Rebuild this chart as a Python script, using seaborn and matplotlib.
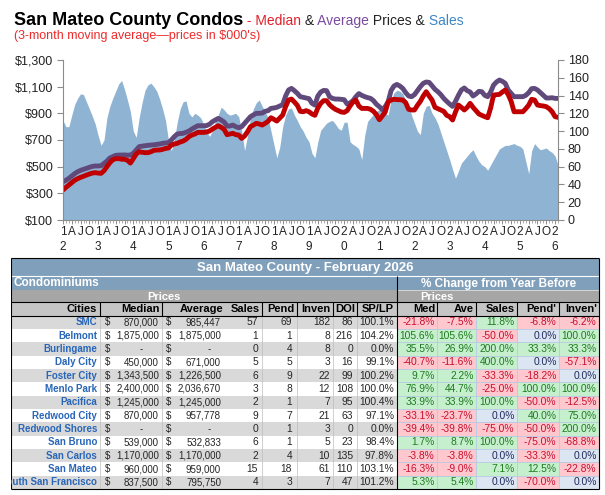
import matplotlib
matplotlib.use("Agg")
import numpy as np
import pandas as pd
import matplotlib.pyplot as plt
import seaborn as sns
from matplotlib.patches import Rectangle

# ---- chart data: 3-month moving averages, Jan 2012 .. Feb 2026 ----
sales = (
    [112, 105, 105, 118, 130, 137, 142, 141, 133, 125, 117, 108]      # 2012
    + [95, 84, 90, 115, 128, 137, 145, 153, 157, 147, 135, 122]       # 2013
    + [100, 93, 115, 132, 146, 152, 154, 150, 145, 136, 125, 112]     # 2014
    + [90, 78, 90, 110, 125, 133, 134, 120, 116, 120, 118, 115]       # 2015
    + [108, 100, 94, 100, 110, 118, 127, 124, 120, 118, 119, 120]     # 2016
    + [116, 100, 78, 95, 115, 125, 132, 135, 128, 122, 115, 100]      # 2017
    + [85, 70, 82, 105, 118, 125, 126, 118, 112, 105, 100, 93]        # 2018
    + [88, 75, 70, 88, 101, 105, 109, 111, 112, 108, 103, 101]        # 2019
    + [110, 110, 88, 85, 83, 80, 68, 95, 111, 115, 119, 122]          # 2020
    + [124, 123, 120, 118, 135, 143, 146, 145, 142, 135, 128, 118]    # 2021
    + [109, 100, 96, 120, 128, 129, 120, 115, 108, 98, 88, 78]        # 2022
    + [68, 57, 47, 55, 64, 68, 72, 76, 79, 72, 66, 62]                # 2023
    + [60, 56, 62, 68, 74, 80, 82, 84, 84, 85, 86, 84]                # 2024
    + [83, 80, 66, 52, 78, 86, 82, 79, 80, 81, 78, 76]                # 2025
    + [72, 62]                                                        # 2026
)
average_price = (
    [387, 398, 412, 430, 448, 462, 472, 480, 487, 495, 502, 505]
    + [505, 507, 525, 542, 565, 575, 585, 587, 587, 588, 586, 587]
    + [600, 625, 650, 654, 657, 660, 662, 664, 667, 670, 675, 678]
    + [680, 700, 725, 745, 748, 750, 758, 767, 782, 795, 807, 807]
    + [807, 808, 818, 837, 850, 862, 850, 835, 805, 805, 812, 800]
    + [792, 800, 825, 850, 875, 888, 900, 900, 902, 915, 920, 937]
    + [940, 945, 955, 965, 1030, 1075, 1087, 1070, 1050, 1025, 1020, 1015]
    + [1010, 975, 962, 1030, 1060, 1072, 1070, 1025, 1012, 1007, 1007, 1005]
    + [1002, 970, 978, 995, 1025, 1048, 1035, 1025, 1018, 1012, 995, 968]
    + [950, 928, 950, 987, 1070, 1105, 1117, 1105, 1087, 1055, 1030, 1025]
    + [1040, 1070, 1100, 1125, 1135, 1132, 1107, 1080, 1062, 1040, 1012, 990]
    + [970, 952, 990, 1035, 1075, 1090, 1070, 1060, 1030, 1045, 1065, 1062]
    + [1035, 1025, 1060, 1112, 1135, 1150, 1140, 1125, 1075, 1050, 1025, 1025]
    + [1025, 1025, 1035, 1055, 1085, 1087, 1075, 1055, 1035, 1015, 1015, 1017]
    + [1012, 1012]
)
median_price = (
    [325, 345, 362, 380, 398, 410, 420, 428, 437, 445, 452, 455]
    + [452, 450, 470, 500, 530, 552, 560, 560, 556, 555, 548, 527]
    + [560, 595, 612, 608, 605, 605, 612, 622, 625, 625, 630, 637]
    + [640, 662, 670, 675, 685, 692, 705, 725, 737, 745, 757, 757]
    + [757, 760, 767, 782, 795, 807, 795, 780, 740, 745, 750, 740]
    + [737, 712, 730, 762, 800, 812, 825, 820, 812, 825, 840, 867]
    + [855, 842, 865, 887, 950, 1000, 1007, 985, 960, 915, 912, 920]
    + [912, 895, 885, 940, 975, 995, 995, 965, 945, 930, 920, 910]
    + [907, 920, 955, 985, 1000, 955, 937, 937, 937, 930, 915, 890]
    + [852, 880, 910, 985, 1000, 1005, 1003, 1002, 1000, 980, 930, 925]
    + [925, 960, 990, 1030, 1062, 1030, 1000, 945, 935, 925, 915, 885]
    + [875, 850, 910, 962, 945, 925, 945, 975, 945, 920, 895, 885]
    + [875, 867, 940, 1037, 1040, 1042, 1060, 1075, 1040, 990, 912, 912]
    + [912, 912, 935, 962, 1005, 1000, 962, 958, 955, 950, 935, 912]
    + [875, 870]
)
first_year = 2012

# ---- table data ----
cities = ["SMC", "Belmont", "Burlingame", "Daly City", "Foster City", "Menlo Park",
          "Pacifica", "Redwood City", "Redwood Shores", "San Bruno", "San Carlos",
          "San Mateo", "South San Francisco"]
t_median = [870000, 1875000, None, 450000, 1343500, 2400000, 1245000, 870000,
            None, 539000, 1170000, 960000, 837500]
t_average = [985447, 1875000, None, 671000, 1226500, 2036670, 1245000, 957778,
             None, 532833, 1170000, 959000, 795750]
t_sales = [57, 1, 0, 5, 6, 3, 2, 9, 0, 6, 2, 15, 4]
t_pend = [69, 1, 4, 5, 9, 8, 1, 7, 1, 1, 4, 18, 3]
t_inven = [182, 8, 8, 3, 22, 12, 7, 21, 3, 5, 10, 61, 7]
t_doi = [86, 216, 0, 16, 99, 108, 95, 63, 0, 23, 135, 110, 47]
t_splp = ["100.1%", "104.2%", "0.0%", "99.1%", "100.2%", "100.0%", "100.4%",
          "97.1%", "0.0%", "98.4%", "97.8%", "103.1%", "101.2%"]
chg_med = ["-21.8%", "105.6%", "35.5%", "-40.7%", "9.7%", "76.9%", "33.9%",
           "-33.1%", "-39.4%", "1.7%", "-3.8%", "-16.3%", "5.3%"]
chg_ave = ["-7.5%", "105.6%", "26.9%", "-11.6%", "2.2%", "44.7%", "33.9%",
           "-23.7%", "-39.8%", "8.7%", "-3.8%", "-9.0%", "5.4%"]
chg_sales = ["11.8%", "-50.0%", "200.0%", "400.0%", "-33.3%", "-25.0%", "100.0%",
             "0.0%", "-75.0%", "100.0%", "0.0%", "7.1%", "0.0%"]
chg_pend = ["-6.8%", "0.0%", "33.3%", "0.0%", "-18.2%", "100.0%", "-50.0%",
            "40.0%", "-50.0%", "-75.0%", "-33.3%", "12.5%", "-70.0%"]
chg_inven = ["-6.2%", "100.0%", "33.3%", "-57.1%", "0.0%", "100.0%", "-12.5%",
             "75.0%", "200.0%", "-68.8%", "0.0%", "-22.8%", "0.0%"]

AREA = "#8FB3D3"
RED = "#C00000"
PURPLE = "#604A7B"
STEEL = "#7F9FBB"

sns.set_theme(style="white")
plt.rcParams['font.family'] = ['Liberation Sans', 'DejaVu Sans']

W, H = 605, 495
fig = plt.figure(figsize=(W / 100, H / 100), dpi=100)

# ---------------- chart ----------------
months = np.arange(len(sales))
df = pd.DataFrame({"month": months, "Sales": sales,
                   "Median": median_price, "Average": average_price})

ax = fig.add_axes([63 / W, 1 - 220 / H, 495 / W, 160 / H])
ax2 = ax.twinx()
ax.set_zorder(ax2.get_zorder() + 1)
ax.patch.set_visible(False)

ax2.fill_between(df["month"], df["Sales"], 0, color=AREA, linewidth=0)
ax2.set_ylim(0, 180)
ax2.set_yticks(range(0, 181, 20))

sns.lineplot(data=df, x="month", y="Average", ax=ax, color=PURPLE, linewidth=3.5)
sns.lineplot(data=df, x="month", y="Median", ax=ax, color=RED, linewidth=3.5)
ax.set_ylim(100, 1300)
ax.set_yticks(range(100, 1301, 200))
ax.set_yticklabels([f"${v:,}" for v in range(100, 1301, 200)])
ax.set_xlim(0, len(sales) - 1)
ax.set_xlabel("")
ax.set_ylabel("")

qmonths = list(range(0, len(sales), 3))
qlabels = []
for m in qmonths:
    yy = str(first_year + m // 12)[2:]
    k = m % 12
    qlabels.append(f"{yy[0]}\n{yy[1]}" if k == 0 else {3: "A", 6: "J", 9: "O"}[k])
ax.set_xticks(qmonths)
ax.set_xticklabels(qlabels, fontsize=8.5, linespacing=1.25)
ax.set_xticks(months, minor=True)

spc = "#8C8C8C"
for a in (ax, ax2):
    for s in a.spines.values():
        s.set_color(spc)
        s.set_linewidth(0.8)
    a.spines["top"].set_visible(False)
ax.spines["right"].set_visible(False)
ax2.spines["left"].set_visible(False)
ax2.spines["bottom"].set_visible(False)

ax.tick_params(axis="y", left=True, length=4, width=0.8, color=spc,
               labelsize=9, labelcolor="#222222", pad=3)
ax2.tick_params(axis="y", right=True, length=4, width=0.8, color=spc,
                labelsize=9, labelcolor="#222222", pad=3)
ax.tick_params(axis="x", which="major", bottom=True, length=3, width=0.7,
               color=spc, labelcolor="#222222", pad=1.5)
ax.tick_params(axis="x", which="minor", bottom=True, length=2, width=0.5, color=spc)

# ---------------- title ----------------
fig.canvas.draw()
rend = fig.canvas.get_renderer()
t = fig.text(14 / W, 1 - 25 / H, "San Mateo County Condos", fontsize=13,
             fontweight="bold", color="black", va="baseline")
x = t.get_window_extent(renderer=rend).x1
for s, c in [(" - Median", "#E0202A"), (" &", "#222222"), (" Average", "#7A4A9E"),
             (" Prices &", "#222222"), (" Sales", "#3D85C6")]:
    tt = fig.text(x / W, 1 - 25 / H, s, fontsize=10, color=c, va="baseline")
    x = tt.get_window_extent(renderer=rend).x1
fig.text(14 / W, 1 - 39 / H, "(3-month moving average\u2014prices in $000's)",
         fontsize=9, color="#EE2A2A", va="baseline")

# ---------------- table ----------------
tab = fig.add_axes([0, 0, 1, 240 / H])
tab.set_xlim(0, W)
tab.set_ylim(H, 255)
tab.axis("off")


def rect(x0, y0, x1, y1, fc, ec="none", lw=0.0, z=1):
    tab.add_patch(Rectangle((x0, y0), x1 - x0, y1 - y0, facecolor=fc,
                            edgecolor=ec, linewidth=lw, zorder=z))


def hline(y, x0, x1, c="black", lw=0.8, z=4):
    tab.plot([x0, x1], [y, y], color=c, lw=lw, zorder=z, solid_capstyle="butt")


def vline(x, y0, y1, c="black", lw=0.8, z=4):
    tab.plot([x, x], [y0, y1], color=c, lw=lw, zorder=z, solid_capstyle="butt")


L, R, MID = 11, 599, 397
Y_TITLE, Y_ROW2, Y_PRICES, Y_HEAD, Y_DATA = 258, 276, 290, 302, 315.5
RH = 13.35
Y_END = Y_DATA + RH * len(cities)

rect(L, Y_TITLE, R, Y_PRICES, STEEL)
rect(L, Y_PRICES, R, Y_HEAD, "#A6A6A6")
rect(L, Y_HEAD, R, Y_DATA, "#C6C6C6")
hline(Y_ROW2, L, R, c="white", lw=0.8)
hline(Y_PRICES, MID, R, c="#DDDDDD", lw=0.6)

tab.text(305, 267.5, "San Mateo County - February 2026", fontsize=9.5,
         fontweight="bold", color="white", ha="center", va="center")
tab.text(13, 283.5, "Condominiums", fontsize=8.5, fontweight="bold",
         color="white", ha="left", va="center")
tab.text(499, 283.5, "% Change from Year Before", fontsize=8.5, fontweight="bold",
         color="white", ha="center", va="center")
tab.text(164, 296.5, "Prices", fontsize=8, fontweight="bold", color="white",
         ha="center", va="center")
tab.text(437, 296.5, "Prices", fontsize=8, fontweight="bold", color="white",
         ha="center", va="center")

headers = [("Cities", 97), ("Median", 160), ("Average", 223), ("Sales", 260),
           ("Pend", 294), ("Inven", 331), ("DOI", 355), ("SP/LP", 394),
           ("Med", 435), ("Ave", 474), ("Sales", 515), ("Pend'", 556),
           ("Inven'", 597)]
yh = (Y_HEAD + Y_DATA) / 2
for s, xr in headers:
    tab.text(xr, yh, s, fontsize=8, fontweight="bold", color="black",
             ha="right", va="center", zorder=5)

left_cols = [100, 162, 262, 297, 333, 357]
right_edges = [MID, 437, 476, 517, 559, R]
for xc in left_cols + right_edges[1:-1]:
    vline(xc, Y_HEAD, Y_DATA)

BG = {"neg": "#FFC7CE", "pos": "#C6EFCE", "zero": "#DCE6F2"}
FG = {"neg": "#C8102E", "pos": "#1E7B1E", "zero": "#1F2A5C"}


def kind(s):
    v = float(s.rstrip("%"))
    return "zero" if v == 0 else ("neg" if v < 0 else "pos")


FS = 7.4      # counts and percentages
FS_P = 7.0    # dollar columns (tighter)
for i, city in enumerate(cities):
    y0 = Y_DATA + i * RH
    yc = y0 + RH / 2
    rect(L, y0, MID, y0 + RH, "#D9D9D9" if i % 2 == 0 else "white")
    tab.text(97, yc, city, fontsize=7, fontweight="bold", color="#2966B8",
             ha="right", va="center", zorder=5)
    for dollar_x, num_x, dash_x, val in [(105, 159, 141, t_median[i]),
                                         (166, 221, 209, t_average[i])]:
        tab.text(dollar_x, yc, "$", fontsize=FS_P, ha="left", va="center", zorder=5)
        if val is None:
            tab.text(dash_x, yc, "-", fontsize=FS_P, ha="center", va="center", zorder=5)
        else:
            tab.text(num_x, yc, f"{val:,}", fontsize=FS_P, ha="right", va="center", zorder=5)
    for xr, v in [(258, t_sales[i]), (292, t_pend[i]), (330, t_inven[i]),
                  (353, t_doi[i]), (394, t_splp[i])]:
        tab.text(xr, yc, str(v), fontsize=FS, ha="right", va="center", zorder=5)
    chg = [chg_med[i], chg_ave[i], chg_sales[i], chg_pend[i], chg_inven[i]]
    for j, s in enumerate(chg):
        k = kind(s)
        x0, x1 = right_edges[j], right_edges[j + 1]
        rect(x0, y0, x1, y0 + RH, BG[k], ec="#B4C8E0", lw=0.5, z=2)
        tab.text(x1 - 2.5, yc, s, fontsize=FS, color=FG[k], ha="right",
                 va="center", zorder=5)

for xc in left_cols:
    vline(xc, Y_DATA, Y_END, c="#BDBDBD", lw=0.5, z=3)

# borders
hline(Y_TITLE, L, R)
hline(Y_HEAD, L, R)
hline(Y_DATA, L, R)
hline(Y_END, L, R)
vline(L, Y_TITLE, Y_END)
vline(R, Y_TITLE, Y_END)
vline(MID, Y_ROW2, Y_END)

# clip the long city name at the table's left edge
rect(0, 255, L - 0.4, H, "white", z=6)

fig.savefig("out.png", dpi=100)
